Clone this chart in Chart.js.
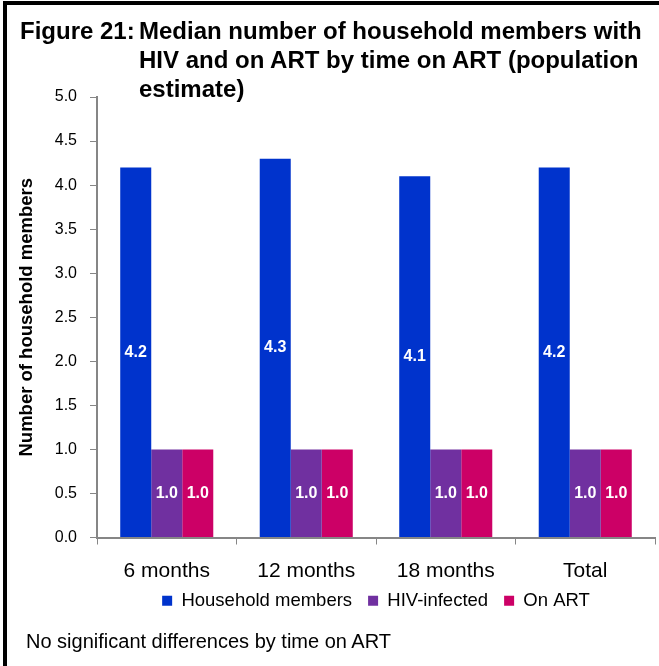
<!DOCTYPE html>
<html>
<head>
<meta charset="utf-8">
<script src="https://cdn.jsdelivr.net/npm/chart.js@4"></script>
<style>
  html, body { margin: 0; padding: 0; background: #fff; }
  body { width: 659px; height: 666px; position: relative; overflow: hidden; font-family: "Liberation Sans", Arial, sans-serif; }
  #frame { position: absolute; left: 3px; top: 1px; width: 700px; height: 700px; border-left: 4px solid #000; border-top: 4px solid #000; box-sizing: border-box; }
  #wrap { position: absolute; left: 0; top: 0; width: 659px; height: 666px; }
  #title { position: absolute; left: 20px; top: 16px; font-weight: bold; font-size: 24px; line-height: 29px; color: #000; }
  #title .lab { position: absolute; left: 0; top: 0; white-space: nowrap; }
  #title .txt { position: absolute; left: 119px; top: 0; white-space: nowrap; }
  #note { position: absolute; left: 26px; top: 629px; font-size: 20px; line-height: 24px; color: #000; white-space: nowrap; }
</style>
</head>
<body>
<div id="frame"></div>
<div id="wrap"><canvas id="c" width="659" height="666"></canvas></div>
<div id="title"><span class="lab">Figure 21:</span><span class="txt">Median number of household members with<br>HIV and on ART by time on ART (population<br>estimate)</span></div>
<div id="note">No significant differences by time on ART</div>
<script>
const categories = ["6 months", "12 months", "18 months", "Total"];
const householdMembers = [4.2, 4.3, 4.1, 4.2];
const hivInfected = [1.0, 1.0, 1.0, 1.0];
const onArt = [1.0, 1.0, 1.0, 1.0];
const seriesNames = ["Household members", "HIV-infected", "On ART"];
const seriesColors = ["#0033CC", "#7030A0", "#CC0066"];
const yAxisTitle = "Number of household members";

const FONT = "'Liberation Sans', Arial, sans-serif";

const valueLabels = {
  id: "valueLabels",
  afterDatasetsDraw(chart) {
    const ctx = chart.ctx;
    ctx.save();
    ctx.font = "bold 16px " + FONT;
    ctx.fillStyle = "#fff";
    ctx.textAlign = "center";
    ctx.textBaseline = "middle";
    chart.data.datasets.forEach((ds, i) => {
      const meta = chart.getDatasetMeta(i);
      meta.data.forEach((bar, j) => {
        const v = ds.data[j];
        const y = (bar.y + bar.base) / 2;
        ctx.fillText(v.toFixed(1), bar.x, y);
      });
    });
    ctx.restore();
  }
};

const legendShift = {
  id: "legendShift",
  afterLayout(chart) {
    if (chart.legend) { chart.legend.top -= 8; chart.legend.bottom -= 8; }
  }
};

new Chart(document.getElementById("c"), {
  type: "bar",
  data: {
    labels: categories,
    datasets: [
      { label: seriesNames[0], data: householdMembers, backgroundColor: seriesColors[0] },
      { label: seriesNames[1], data: hivInfected, backgroundColor: seriesColors[1] },
      { label: seriesNames[2], data: onArt, backgroundColor: seriesColors[2] }
    ]
  },
  options: {
    responsive: false,
    animation: false,
    devicePixelRatio: 1,
    layout: { padding: { left: 8, top: 97, right: 4, bottom: 38 } },
    datasets: { bar: { categoryPercentage: 0.667, barPercentage: 1.0 } },
    plugins: {
      legend: {
        position: "bottom",
        fullSize: false,
        labels: {
          boxWidth: 10, boxHeight: 10, padding: 16,
          color: "#000",
          font: { family: FONT, size: 18.5 }
        }
      },
      tooltip: { enabled: false },
      title: { display: false }
    },
    scales: {
      x: {
        grid: { display: true, drawOnChartArea: false, offset: true, color: "#868686", tickLength: 7, lineWidth: 1 },
        border: { color: "#868686", width: 2 },
        ticks: { color: "#000", padding: 14, font: { family: FONT, size: 21 } },
        afterFit(scale) { scale.height = 46; }
      },
      y: {
        min: 0, max: 5,
        grid: { display: true, drawOnChartArea: false, color: "#868686", tickLength: 7 },
        border: { color: "#868686", width: 2 },
        ticks: {
          stepSize: 0.5, color: "#000", padding: 13,
          font: { family: FONT, size: 16 },
          callback: (v) => Number(v).toFixed(1)
        },
        title: {
          display: true, text: yAxisTitle, color: "#000",
          font: { family: FONT, size: 18.5, weight: "bold" },
          padding: { top: 8, bottom: 0 }
        },
        afterFit(scale) { scale.width = 89; }
      }
    }
  },
  plugins: [valueLabels, legendShift]
});
</script>
</body>
</html>
